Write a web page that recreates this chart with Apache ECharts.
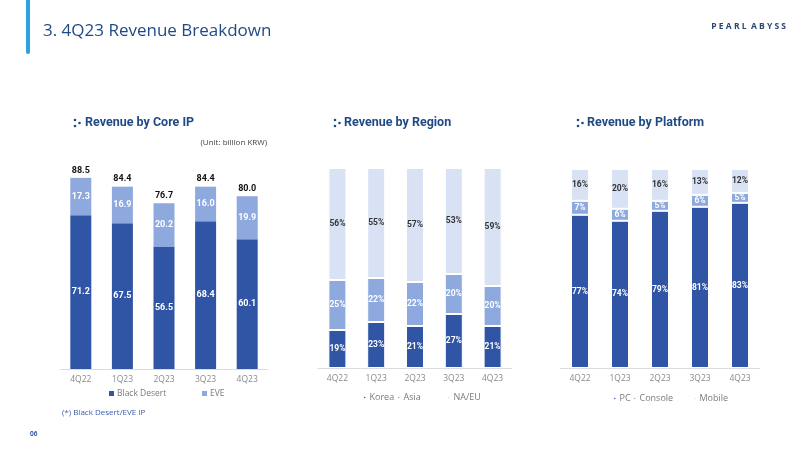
<!DOCTYPE html>
<html><head><meta charset="utf-8">
<script src="https://cdn.jsdelivr.net/npm/echarts@6/dist/echarts.min.js"></script>
<style>html,body{margin:0;padding:0;background:#fff}#c{width:812px;height:456px}</style>
</head><body><div id="c"></div>
<script>
const categories = ['4Q22','1Q23','2Q23','3Q23','4Q23'];
// Revenue by Core IP (billion KRW)
const blackDesert = [71.2, 67.5, 56.5, 68.4, 60.1];
const eve = [17.3, 16.9, 20.2, 16.0, 19.9];
const coreTotals = [88.5, 84.4, 76.7, 84.4, 80.0];
// Revenue by Region (%)
const korea = [19, 23, 21, 27, 21];
const asia = [25, 22, 22, 20, 20];
const naeu = [56, 55, 57, 53, 59];
// Revenue by Platform (%)
const pc = [77, 74, 79, 81, 83];
const consoleP = [7, 6, 5, 6, 5];
const mobile = [16, 20, 16, 13, 12];

const C1 = '#2F55A4', C2 = '#8DA9DE', C3 = '#D9E2F4';
const TITLE = '#1F4A85';
const FONT = '"Open Sans", "Noto Sans", sans-serif';

const chart = echarts.init(document.getElementById('c'), null, {renderer:'canvas'});

function xAx(gi){
  return {type:'category', gridIndex:gi, data:categories,
    axisLine:{lineStyle:{color:'#dcdcdc'}}, axisTick:{show:false},
    axisLabel:{color:'#8a8a8a', fontSize:8.5, fontFamily:FONT, margin:6}};
}
function yAx(gi, max){
  return {type:'value', gridIndex:gi, min:0, max:max, show:false, splitLine:{show:false}};
}
function lbl(color, fmt, size){
  return {show:true, position:'inside', color:color, fontSize:size||8.5, fontWeight:'bold',
    fontFamily:'Roboto, "Open Sans", sans-serif', formatter:fmt};
}
const pct = p => p.value + '%';
function bar(name, data, gi, color, stack, w, lcolor, fmt, size){
  return {name:name, type:'bar', xAxisIndex:gi, yAxisIndex:gi, stack:stack, data:data,
    barWidth:w, itemStyle:{color:color, borderColor:'#fff', borderWidth:gi===0?0:1},
    label:lbl(lcolor, fmt, size), emphasis:{disabled:true}};
}

function titleIcon(x, y){
  return [
    {type:'circle', shape:{cx:x, cy:y-3, r:1.3}, style:{fill:TITLE}},
    {type:'circle', shape:{cx:x, cy:y+3, r:1.3}, style:{fill:TITLE}},
    {type:'circle', shape:{cx:x+4.5, cy:y, r:1.3}, style:{fill:TITLE}}
  ];
}
function txt(x, y, text, size, color, weight, align, font){
  return {type:'text', x:x, y:y, style:{text:text, fontSize:size, fill:color,
    fontWeight:weight||'normal', fontFamily:font||FONT, textAlign:align||'left', textVerticalAlign:'middle'}};
}

function lg(name, left, top, icon, size, fs){
  return {data:[name], left:left, top:top, icon:icon, itemWidth:size, itemHeight:size,
    textStyle:{color:'#7a7a7a', fontSize:fs, fontFamily:FONT, padding:[0,0,0,-2]}, selectedMode:false};
}

chart.setOption({
  animation:false,
  grid:[
    {left:60, width:208, top:153, height:216},
    {left:318, width:194, top:168, height:200},
    {left:560, width:200, top:169, height:199}
  ],
  xAxis:[xAx(0), xAx(1), xAx(2)],
  yAxis:[yAx(0,100), yAx(1,100), yAx(2,100)],
  legend:[
    lg('Black Desert', 104, 384, 'rect', 5, 8.5),
    lg('EVE', 197, 384, 'rect', 5, 8.5),
    lg('Korea', 357, 388, 'circle', 3.5, 9),
    lg('Asia', 391, 388, 'circle', 3.5, 9),
    lg('NA/EU', 441, 388, 'circle', 3.5, 9),
    lg('PC', 607, 389, 'circle', 3.5, 9),
    lg('Console', 627, 389, 'circle', 3.5, 9),
    lg('Mobile', 687, 389, 'circle', 3.5, 9)
  ],
  series:[
    bar('Black Desert', blackDesert, 0, C1, 'core', 21, '#fff', p=>p.value.toFixed(1), 9),
    bar('EVE', eve, 0, C2, 'core', 21, '#fff', p=>p.value.toFixed(1), 9),
    {name:'Total', type:'bar', xAxisIndex:0, yAxisIndex:0, data:coreTotals, barWidth:21, barGap:'-100%', z:1,
      itemStyle:{color:'rgba(0,0,0,0)'}, emphasis:{disabled:true},
      label:{show:true, position:'top', distance:3, color:'#111', fontSize:9, fontWeight:'bold',
        fontFamily:'Roboto, "Open Sans", sans-serif', formatter:p=>p.value.toFixed(1)}},
    bar('Korea', korea, 1, C1, 'reg', 18, '#fff', pct, 8.5),
    bar('Asia', asia, 1, C2, 'reg', 18, '#fff', pct, 8.5),
    bar('NA/EU', naeu, 1, C3, 'reg', 18, '#333', pct, 8.5),
    bar('PC', pc, 2, C1, 'plat', 18, '#fff', pct, 8.5),
    bar('Console', consoleP, 2, C2, 'plat', 18, '#fff', pct, 8.5),
    bar('Mobile', mobile, 2, C3, 'plat', 18, '#333', pct, 8.5)
  ],
  graphic:[
    {type:'rect', shape:{x:26, y:-4, width:4, height:58, r:2}, style:{fill:'#2AA3DC'}},
    txt(43, 31, '3. 4Q23 Revenue Breakdown', 17, TITLE),
    txt(786, 27, 'P E A R L  A B Y S S', 8.5, '#2B4670', 'bold', 'right'),
    ...titleIcon(75, 123),
    txt(85, 123, 'Revenue by Core IP', 12.5, TITLE, 'bold', 'left', 'Roboto, sans-serif'),
    ...titleIcon(335, 123),
    txt(344, 123, 'Revenue by Region', 12.5, TITLE, 'bold', 'left', 'Roboto, sans-serif'),
    ...titleIcon(578, 123),
    txt(587, 123, 'Revenue by Platform', 12.5, TITLE, 'bold', 'left', 'Roboto, sans-serif'),
    txt(267, 143, '(Unit: billion KRW)', 8, '#444', 'normal', 'right'),
    txt(62, 413, '(*) Black Desert/EVE IP', 8, '#3A5DA8'),
    txt(30, 434, '06', 6.5, '#3A5DA8', 'bold')
  ]
});
</script></body></html>
